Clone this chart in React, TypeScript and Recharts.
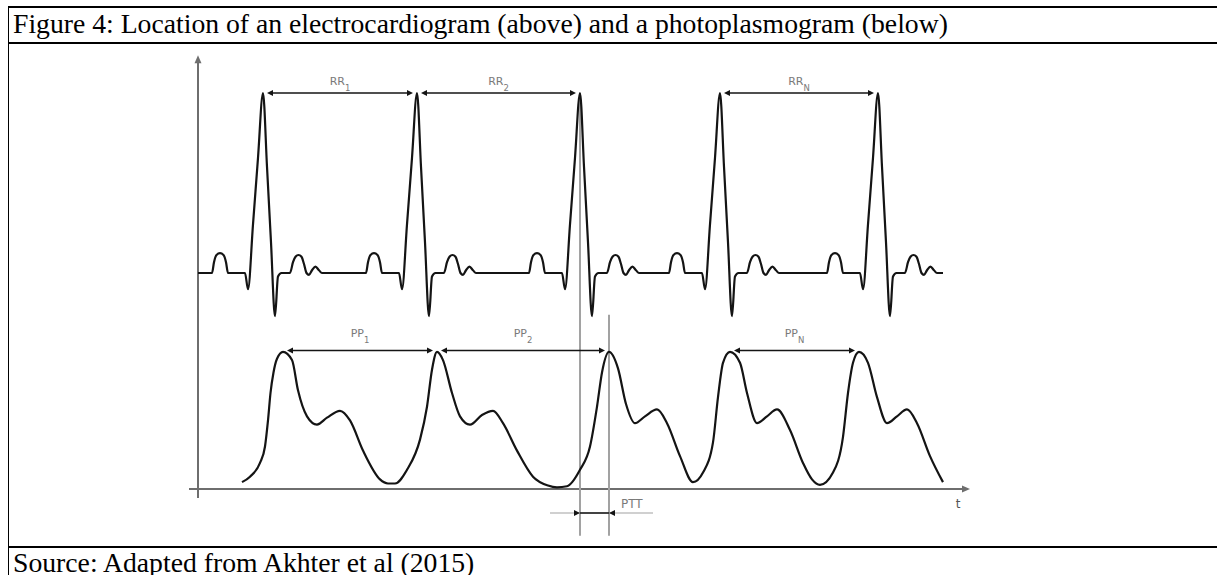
import { LineChart, Line, XAxis, YAxis, ReferenceLine } from "recharts";

const SERIF = '"Liberation Serif", "Times New Roman", serif';
const SANS = '"DejaVu Sans", Verdana, sans-serif';
const INK = "#141414";
const AXIS = "#6e6e6e";
const GUIDE = "#a2a2a2";
const LABEL = "#7a7a7a";

const TITLE =
  "Figure 4: Location of an electrocardiogram (above) and a photoplasmogram (below)";
const SOURCE = "Source: Adapted from Akhter et al (2015)";

// time runs from the vertical axis; ECG amplitude in mV
const ecgBeat1: [number, number][] = [
  [0, 0], [14, 0], [16, 0.06], [18.5, 0.1], [22, 0.11], [25.5, 0.1], [28, 0.06], [30, 0],
  [47, 0], [50, -0.09], [55, 0.27], [60, 0.64], [65, 1.0], [69, 0.59], [73, 0.17], [77, -0.24],
  [80, -0.02], [83.5, 0], [92, 0], [95, 0.06], [97.5, 0.09], [100.5, 0.1], [103.5, 0.09],
  [106, 0.05], [108.5, 0], [111, -0.01], [114, 0.015], [117.5, 0.035], [121, 0.015], [124, 0],
];
const ecgBeat2: [number, number][] = [
  [168, 0], [170, 0.06], [172.5, 0.1], [176, 0.11], [179.5, 0.1], [182, 0.06], [184, 0],
  [201, 0], [204, -0.09], [209, 0.27], [214, 0.64], [219, 1.0], [223, 0.59], [227, 0.17], [231, -0.24],
  [234, -0.02], [237.5, 0], [246, 0], [249, 0.06], [251.5, 0.09], [254.5, 0.1], [257.5, 0.09],
  [260, 0.05], [262.5, 0], [265, -0.01], [268, 0.015], [271.5, 0.035], [275, 0.015], [278, 0],
];
const ecgBeat3: [number, number][] = [
  [331, 0], [333, 0.06], [335.5, 0.1], [339, 0.11], [342.5, 0.1], [345, 0.06], [347, 0],
  [364, 0], [367, -0.09], [372, 0.27], [377, 0.64], [382, 1.0], [386, 0.59], [390, 0.17], [394, -0.24],
  [397, -0.02], [400.5, 0], [409, 0], [412, 0.06], [414.5, 0.09], [417.5, 0.1], [420.5, 0.09],
  [423, 0.05], [425.5, 0], [428, -0.01], [431, 0.015], [434.5, 0.035], [438, 0.015], [441, 0],
];
const ecgBeat4: [number, number][] = [
  [471, 0], [473, 0.06], [475.5, 0.1], [479, 0.11], [482.5, 0.1], [485, 0.06], [487, 0],
  [504, 0], [507, -0.09], [512, 0.27], [517, 0.64], [522, 1.0], [526, 0.59], [530, 0.17], [534, -0.24],
  [537, -0.02], [540.5, 0], [549, 0], [552, 0.06], [554.5, 0.09], [557.5, 0.1], [560.5, 0.09],
  [563, 0.05], [565.5, 0], [568, -0.01], [571, 0.015], [574.5, 0.035], [578, 0.015], [581, 0],
];
const ecgBeat5: [number, number][] = [
  [629, 0], [631, 0.06], [633.5, 0.1], [637, 0.11], [640.5, 0.1], [643, 0.06], [645, 0],
  [662, 0], [665, -0.09], [670, 0.27], [675, 0.64], [680, 1.0], [684, 0.59], [688, 0.17], [692, -0.24],
  [695, -0.02], [698.5, 0], [707, 0], [710, 0.06], [712.5, 0.09], [715.5, 0.1], [718.5, 0.09],
  [721, 0.05], [723.5, 0], [726, -0.01], [729, 0.015], [732.5, 0.035], [736, 0.015], [739, 0], [745, 0],
];

// PPG, normalised so that a systolic peak is 1
const ppgPulse1: [number, number][] = [
  [44, 0.05], [52, 0.09], [62, 0.19], [67, 0.31], [70, 0.5], [72.5, 0.7], [75.5, 0.85], [79, 0.95], [85, 1.0],
  [94, 0.94], [100, 0.72], [109, 0.53], [119, 0.47], [129, 0.52], [142, 0.57], [152, 0.5], [165, 0.28],
  [182, 0.07], [190, 0.04], [197, 0.04], [209, 0.14], [222, 0.36], [229, 0.6], [234, 0.87],
];
const ppgPulse2: [number, number][] = [
  [239, 1.0], [245, 0.94], [254, 0.7], [262, 0.53], [272, 0.47], [284, 0.54], [295, 0.57], [305, 0.48],
  [319, 0.28], [335, 0.09], [350, 0.025], [359, 0.012], [369, 0.02], [382, 0.14], [392, 0.31], [399, 0.6],
  [404, 0.85],
];
const ppgPulse3: [number, number][] = [
  [411, 1.0], [420, 0.88], [428, 0.62], [437, 0.48], [447, 0.53], [459, 0.58], [469, 0.48], [482, 0.24],
  [495, 0.05], [505, 0.12], [515, 0.34], [520, 0.67], [525, 0.92],
];
const ppgPulse4: [number, number][] = [
  [532, 1.0], [542, 0.92], [549, 0.7], [559, 0.48], [569, 0.53], [579, 0.58], [592, 0.43], [605, 0.19],
  [614, 0.07], [622, 0.03], [635, 0.12], [645, 0.38], [650, 0.7], [655, 0.92],
];
const ppgPulse5: [number, number][] = [
  [661, 1.0], [670, 0.92], [679, 0.67], [689, 0.48], [699, 0.53], [709, 0.58], [719, 0.48], [732, 0.24],
  [745, 0.05],
];

const rPeaks = [65, 219, 382, 522, 680];
const ppgPeaks = [85, 239, 411, 532, 661];

const rrIntervals = [
  { sub: "1", from: rPeaks[0], to: rPeaks[1] },
  { sub: "2", from: rPeaks[1], to: rPeaks[2] },
  { sub: "N", from: rPeaks[3], to: rPeaks[4] },
];
const ppIntervals = [
  { sub: "1", from: ppgPeaks[0], to: ppgPeaks[1] },
  { sub: "2", from: ppgPeaks[1], to: ppgPeaks[2] },
  { sub: "N", from: ppgPeaks[3], to: ppgPeaks[4] },
];

const toPoints = (rows: [number, number][]) => rows.map(([t, v]) => ({ t, v }));
const ecgData = toPoints([...ecgBeat1, ...ecgBeat2, ...ecgBeat3, ...ecgBeat4, ...ecgBeat5]);
const ppgData = toPoints([...ppgPulse1, ...ppgPulse2, ...ppgPulse3, ...ppgPulse4, ...ppgPulse5]);

const head = (tx: number, ty: number, ux: number, uy: number, len: number, half: number) => {
  const bx = tx - ux * len;
  const by = ty - uy * len;
  return `${tx},${ty} ${bx - uy * half},${by + ux * half} ${bx + uy * half},${by - ux * half}`;
};

const axisShape = (label?: string) => (props: any) => {
  const { x1, y1, x2, y2 } = props;
  const len = Math.hypot(x2 - x1, y2 - y1);
  const ux = (x2 - x1) / len;
  const uy = (y2 - y1) / len;
  return (
    <g>
      <line x1={x1} y1={y1} x2={x2 - ux * 6} y2={y2 - uy * 6} stroke={AXIS} strokeWidth={2} />
      <polygon points={head(x2, y2, ux, uy, 8, 3.5)} fill={AXIS} />
      {label && (
        <text x={x2 - 12} y={y2 + 19} textAnchor="middle" fontFamily={SANS} fontSize={12} fill="#555">
          {label}
        </text>
      )}
    </g>
  );
};

const intervalShape = (name: string, sub: string, lift: number) => (props: any) => {
  const { x1, y1, x2 } = props;
  const a = x1 + 4;
  const b = x2 - 4;
  return (
    <g>
      <line x1={a + 4} y1={y1} x2={b - 4} y2={y1} stroke={INK} strokeWidth={1.3} />
      <polygon points={head(a, y1, -1, 0, 6, 3)} fill={INK} />
      <polygon points={head(b, y1, 1, 0, 6, 3)} fill={INK} />
      <text x={(x1 + x2) / 2} y={y1 - lift} textAnchor="middle" fontFamily={SANS} fontSize={11} fill={LABEL}>
        {name}
        <tspan fontSize={8.5} dy={6}>
          {sub}
        </tspan>
      </text>
    </g>
  );
};

const PttShape = (props: any) => {
  const { x1, y1, x2 } = props;
  return (
    <g>
      <line x1={x1} y1={y1} x2={x2} y2={y1} stroke={INK} strokeWidth={1.5} />
      <polygon points={head(x1, y1, 1, 0, 6, 3)} fill={INK} />
      <polygon points={head(x2, y1, -1, 0, 6, 3)} fill={INK} />
      <text x={x2 + 12} y={y1 - 5} fontFamily={SANS} fontSize={12} fill={LABEL}>
        PTT
      </text>
    </g>
  );
};

const rule = (top: number) => (
  <div
    style={{
      position: "absolute",
      left: 8,
      top,
      width: 1209,
      height: 2,
      background: "#000",
    }}
  />
);

const caption: React.CSSProperties = {
  position: "absolute",
  left: 13,
  fontFamily: SERIF,
  fontSize: 27.7,
  lineHeight: "30px",
  whiteSpace: "nowrap",
  color: "#000",
};

const App = () => {
  return (
    <div
      style={{
        position: "absolute",
        left: 0,
        top: 0,
        width: 1217,
        height: 575,
        overflow: "hidden",
        background: "#fff",
      }}
    >
      {rule(6)}
      {rule(42)}
      {rule(546)}
      <div style={{ position: "absolute", left: 8, top: 6, width: 1, height: 569, background: "#000" }} />
      <div style={{ ...caption, top: 8.7 }}>{TITLE}</div>
      <div style={{ position: "absolute", left: 0, top: 44 }}>
        <LineChart width={1217} height={502} margin={{ top: 13, right: 247, bottom: 57, left: 198 }}>
          <XAxis type="number" dataKey="t" domain={[0, 772]} hide allowDataOverflow />
          <YAxis yAxisId="ecg" type="number" domain={[-1.2, 1.2]} hide allowDataOverflow />
          <YAxis yAxisId="ppg" type="number" domain={[0, 3.15]} hide allowDataOverflow />

          <ReferenceLine
            yAxisId="ecg"
            segment={[{ x: 0, y: -1.25 }, { x: 0, y: 1.21 }]}
            ifOverflow="visible"
            shape={axisShape()}
          />
          <ReferenceLine
            yAxisId="ecg"
            segment={[{ x: -9, y: -1.2 }, { x: 772, y: -1.2 }]}
            ifOverflow="visible"
            shape={axisShape("t")}
          />

          <ReferenceLine
            yAxisId="ecg"
            segment={[{ x: rPeaks[2], y: 1.0 }, { x: rPeaks[2], y: -1.46 }]}
            ifOverflow="visible"
            stroke={GUIDE}
            strokeWidth={2}
          />
          <ReferenceLine
            yAxisId="ppg"
            segment={[{ x: ppgPeaks[2], y: 1.27 }, { x: ppgPeaks[2], y: -0.34 }]}
            ifOverflow="visible"
            stroke={GUIDE}
            strokeWidth={2}
          />
          <ReferenceLine
            yAxisId="ppg"
            segment={[{ x: rPeaks[2] - 30, y: -0.175 }, { x: ppgPeaks[2] + 44, y: -0.175 }]}
            ifOverflow="visible"
            stroke={GUIDE}
            strokeWidth={1.2}
          />
          <ReferenceLine
            yAxisId="ppg"
            segment={[{ x: rPeaks[2], y: -0.175 }, { x: ppgPeaks[2], y: -0.175 }]}
            ifOverflow="visible"
            shape={PttShape}
          />

          {rrIntervals.map((r) => (
            <ReferenceLine
              key={`rr-${r.sub}`}
              yAxisId="ecg"
              segment={[{ x: r.from, y: 1.0 }, { x: r.to, y: 1.0 }]}
              ifOverflow="visible"
              shape={intervalShape("RR", r.sub, 8)}
            />
          ))}
          {ppIntervals.map((p) => (
            <ReferenceLine
              key={`pp-${p.sub}`}
              yAxisId="ppg"
              segment={[{ x: p.from, y: 1.01 }, { x: p.to, y: 1.01 }]}
              ifOverflow="visible"
              shape={intervalShape("PP", p.sub, 13)}
            />
          ))}

          <Line
            data={ecgData}
            dataKey="v"
            yAxisId="ecg"
            type="monotone"
            stroke={INK}
            strokeWidth={2.2}
            dot={false}
            activeDot={false}
            isAnimationActive={false}
          />
          <Line
            data={ppgData}
            dataKey="v"
            yAxisId="ppg"
            type="monotone"
            stroke={INK}
            strokeWidth={2.2}
            dot={false}
            activeDot={false}
            isAnimationActive={false}
          />
        </LineChart>
      </div>
      <div style={{ ...caption, top: 547.7 }}>{SOURCE}</div>
    </div>
  );
};

export default App;
